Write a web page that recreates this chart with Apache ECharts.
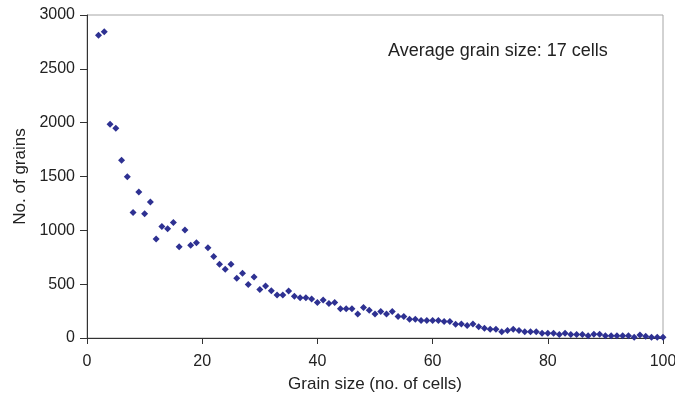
<!DOCTYPE html>
<html>
<head>
<meta charset="utf-8">
<title>Grain size distribution</title>
<script src="https://cdn.jsdelivr.net/npm/echarts@6/dist/echarts.min.js"></script>
<style>
  html, body { margin: 0; padding: 0; background: #ffffff; }
  #chart { width: 675px; height: 405px; }
</style>
</head>
<body>
<div id="chart"></div>
<script>
// Grain size (number of cells) and how many grains have that size
const grainSize = [
  2, 3, 4, 5, 6, 7, 8, 9, 10, 11, 12, 13, 14, 15, 16, 17, 18, 19,
  21, 22, 23, 24, 25, 26, 27, 28, 29, 30, 31, 32, 33, 34, 35, 36, 37, 38, 39, 40,
  41, 42, 43, 44, 45, 46, 47, 48, 49, 50, 51, 52, 53, 54, 55, 56, 57, 58, 59, 60,
  61, 62, 63, 64, 65, 66, 67, 68, 69, 70, 71, 72, 73, 74, 75, 76, 77, 78, 79, 80,
  81, 82, 83, 84, 85, 86, 87, 88, 89, 90, 91, 92, 93, 94, 95, 96, 97, 98, 99, 100
];
const grainCount = [
  2813, 2844, 1986, 1949, 1652, 1497, 1166, 1355, 1154, 1263, 920, 1036, 1015, 1073, 848, 1003, 862, 885,
  838, 756, 684, 638, 684, 554, 601, 496, 567, 450, 484, 439, 400, 400, 437, 388, 375, 375, 363, 329,
  354, 320, 329, 271, 271, 271, 224, 283, 258, 224, 246, 224, 246, 199, 199, 174, 174, 162, 162, 162,
  162, 153, 153, 128, 130, 116, 131, 104, 91, 82, 82, 57, 70, 82, 70, 57, 57, 57, 45, 45,
  45, 32, 45, 32, 32, 32, 20, 35, 35, 20, 20, 20, 20, 20, 7, 28, 16, 7, 7, 7
];

const xTicks = [0, 20, 40, 60, 80, 100];
const yTicks = [0, 500, 1000, 1500, 2000, 2500, 3000];
const note = 'Average grain size: 17 cells';

const points = grainSize.map((s, i) => [s, grainCount[i]]);

const font = 'Liberation Sans, Arial, sans-serif';
const textColor = '#222222';
const plain = v => String(v);

const chart = echarts.init(document.getElementById('chart'), null, { renderer: 'canvas' });
chart.setOption({
  animation: false,
  backgroundColor: '#ffffff',
  grid: {
    left: 87, right: 12, top: 15, bottom: 67,
    outerBoundsMode: 'none',
    containLabel: false,
    show: true,
    borderColor: '#a6a6a6',
    borderWidth: 1,
    backgroundColor: 'transparent'
  },
  xAxis: {
    type: 'value',
    min: xTicks[0],
    max: xTicks[xTicks.length - 1],
    interval: xTicks[1] - xTicks[0],
    name: 'Grain size (no. of cells)',
    nameLocation: 'middle',
    nameGap: 38,
    nameTextStyle: { fontFamily: font, fontSize: 17, color: textColor },
    axisLine: { show: true, lineStyle: { color: '#333333', width: 1 } },
    axisTick: { show: true, inside: false, length: 6, lineStyle: { color: '#333333' } },
    axisLabel: { fontFamily: font, fontSize: 16, color: textColor, margin: 16, formatter: plain },
    splitLine: { show: false }
  },
  yAxis: {
    type: 'value',
    min: yTicks[0],
    max: yTicks[yTicks.length - 1],
    interval: yTicks[1] - yTicks[0],
    name: 'No. of grains',
    nameLocation: 'middle',
    nameGap: 58,
    nameTextStyle: { fontFamily: font, fontSize: 17, color: textColor },
    axisLine: { show: true, lineStyle: { color: '#333333', width: 1 } },
    axisTick: { show: true, inside: false, length: 7, lineStyle: { color: '#333333' } },
    axisLabel: { fontFamily: font, fontSize: 16, color: textColor, margin: 12, formatter: plain },
    splitLine: { show: false }
  },
  graphic: [{
    type: 'text',
    left: 388,
    top: 42,
    style: {
      text: note,
      font: '18px ' + font,
      fill: textColor
    }
  }],
  series: [{
    type: 'scatter',
    data: points,
    symbol: 'diamond',
    symbolSize: 7,
    itemStyle: { color: '#2e3192', opacity: 1 },
    emphasis: { disabled: true }
  }]
});
</script>
</body>
</html>
